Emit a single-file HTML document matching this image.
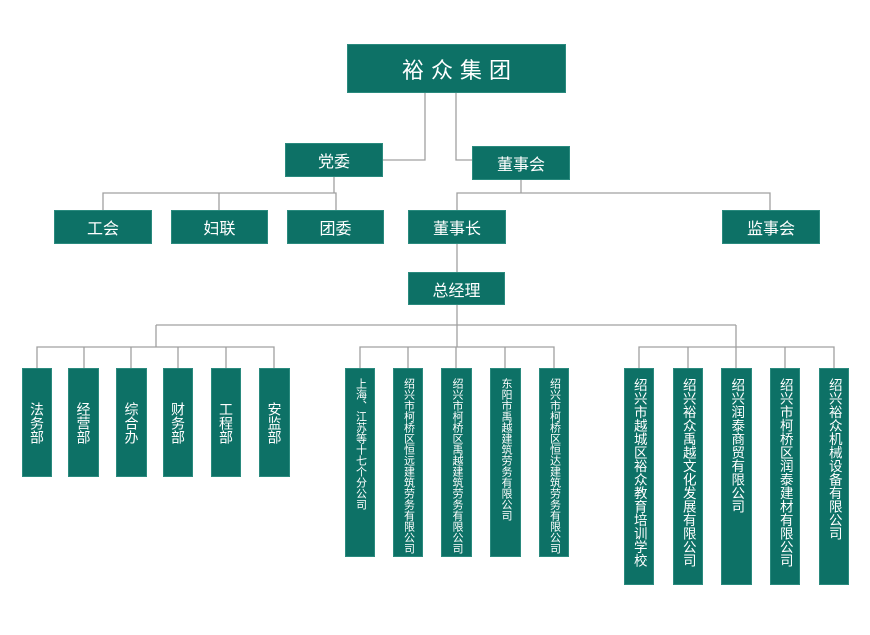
<!DOCTYPE html>
<html><head><meta charset="utf-8"><style>
body{margin:0;width:870px;height:635px;background:#fff;position:relative;overflow:hidden;font-family:"Liberation Sans","Noto Sans CJK SC",sans-serif}
.b{position:absolute;background:#0d7166;color:#fff;display:flex;align-items:center;justify-content:center;box-sizing:border-box;border:1px solid #2a8a7e}
.h{font-size:16px}
.v{writing-mode:vertical-rl;text-orientation:upright;font-size:14px;justify-content:center}
.m{writing-mode:vertical-rl;text-orientation:upright;font-size:11px;line-height:1;justify-content:flex-start;padding-top:9px}
.r{writing-mode:vertical-rl;text-orientation:upright;font-size:13.5px;line-height:1;justify-content:flex-start;padding-top:9px}
svg{position:absolute;left:0;top:0}
</style></head><body>
<svg width="870" height="635"><g stroke="#a0a0a0" stroke-width="1.3" fill="none">
<path d="M425 93V160H383M456 93V160H472"/>
<path d="M334 177V193M103 210V193H336V210M219 193V210"/>
<path d="M521 180V193M457 210V193H770V210"/>
<path d="M457 244V272M457 305V325M156 325H736M156 325V347M457 325V347M736 325V347"/>
<path d="M37 368V347H274V368M84 347V368M131 347V368M178 347V368M226 347V368"/>
<path d="M360 368V347H554V368M408 347V368M456 347V368M505 347V368"/>
<path d="M639 368V347H834V368M688 347V368M736 347V368M785 347V368"/>
</g></svg>
<div class="b" style="left:347px;top:44px;width:219px;height:49px;font-size:22px;letter-spacing:7px;padding-left:7px">裕众集团</div>
<div class="b h" style="left:285px;top:143px;width:98px;height:34px">党委</div>
<div class="b h" style="left:472px;top:146px;width:98px;height:34px">董事会</div>
<div class="b h" style="left:54px;top:210px;width:98px;height:34px">工会</div>
<div class="b h" style="left:171px;top:210px;width:97px;height:34px">妇联</div>
<div class="b h" style="left:287px;top:210px;width:97px;height:34px">团委</div>
<div class="b h" style="left:408px;top:210px;width:98px;height:34px">董事长</div>
<div class="b h" style="left:722px;top:210px;width:98px;height:34px">监事会</div>
<div class="b h" style="left:408px;top:272px;width:97px;height:33px">总经理</div>
<div class="b v" style="left:22px;top:368px;width:30px;height:109px">法务部</div>
<div class="b v" style="left:68px;top:368px;width:31px;height:109px">经营部</div>
<div class="b v" style="left:116px;top:368px;width:31px;height:109px">综合办</div>
<div class="b v" style="left:163px;top:368px;width:30px;height:109px">财务部</div>
<div class="b v" style="left:211px;top:368px;width:30px;height:109px">工程部</div>
<div class="b v" style="left:259px;top:368px;width:31px;height:109px">安监部</div>
<div class="b m" style="left:345px;top:368px;width:30px;height:189px">上海、江苏等十七个分公司</div>
<div class="b m" style="left:393px;top:368px;width:30px;height:189px">绍兴市柯桥区恒远建筑劳务有限公司</div>
<div class="b m" style="left:441px;top:368px;width:31px;height:189px">绍兴市柯桥区禹越建筑劳务有限公司</div>
<div class="b m" style="left:490px;top:368px;width:31px;height:189px">东阳市禹越建筑劳务有限公司</div>
<div class="b m" style="left:539px;top:368px;width:30px;height:189px">绍兴市柯桥区恒达建筑劳务有限公司</div>
<div class="b r" style="left:624px;top:368px;width:30px;height:217px">绍兴市越城区裕众教育培训学校</div>
<div class="b r" style="left:673px;top:368px;width:30px;height:217px">绍兴裕众禹越文化发展有限公司</div>
<div class="b r" style="left:721px;top:368px;width:31px;height:217px">绍兴润泰商贸有限公司</div>
<div class="b r" style="left:770px;top:368px;width:30px;height:217px">绍兴市柯桥区润泰建材有限公司</div>
<div class="b r" style="left:819px;top:368px;width:30px;height:217px">绍兴裕众机械设备有限公司</div>
</body></html>
